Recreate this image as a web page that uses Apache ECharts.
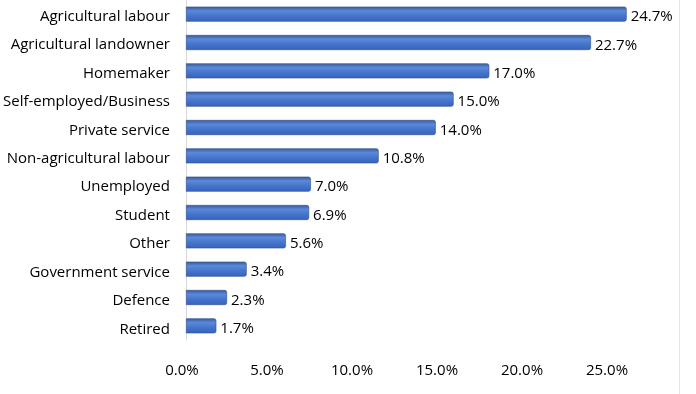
<!DOCTYPE html>
<html><head><meta charset="utf-8">
<script src="https://cdn.jsdelivr.net/npm/echarts@6/dist/echarts.min.js"></script>
<style>html,body{margin:0;padding:0;background:#fff}#c{width:696px;height:394px}</style>
</head><body><div id="c"></div>
<script>
var categories = ['Agricultural labour','Agricultural landowner','Homemaker','Self-employed/Business','Private service','Non-agricultural labour','Unemployed','Student','Other','Government service','Defence','Retired'];
var values = [24.7, 22.7, 17.0, 15.0, 14.0, 10.8, 7.0, 6.9, 5.6, 3.4, 2.3, 1.7];
var tickValues = [0, 5, 10, 15, 20, 25];

var chart = echarts.init(document.getElementById('c'));
var font = 'Open Sans, Liberation Sans, sans-serif';
chart.setOption({
  animation: false,
  grid: [
    {left: 186, right: 64, top: -1, height: 341},
    {left: 182, right: 89, top: 340, height: 1},
    {left: 186, right: 64, top: 2.5, height: 341}
  ],
  xAxis: [
    {type: 'value', gridIndex: 0, min: 0, max: 25, interval: 5, show: false},
    {type: 'value', gridIndex: 1, min: tickValues[0], max: tickValues[tickValues.length-1], interval: 5,
     axisLine: {show: false}, axisTick: {show: false}, splitLine: {show: false},
     axisLabel: {margin: 22, color: '#000', fontSize: 15, fontFamily: font,
       formatter: function(v){ return v.toFixed(1) + '%'; }}},
    {type: 'value', gridIndex: 2, min: 0, max: 25, interval: 5, show: false}
  ],
  yAxis: [
    {type: 'category', gridIndex: 0, data: categories, inverse: true,
     axisLine: {show: true, lineStyle: {color: '#d9d9d9', width: 1}},
     axisTick: {show: false}, axisLabel: {show: false}},
    {type: 'category', gridIndex: 1, data: [''], show: false},
    {type: 'category', gridIndex: 2, data: categories, inverse: true,
     axisLine: {show: false}, axisTick: {show: false},
     axisLabel: {margin: 17, color: '#000', fontSize: 15, fontFamily: font}}
  ],
  series: [{
    type: 'bar', xAxisIndex: 0, yAxisIndex: 0, data: values, barWidth: 15,
    itemStyle: {
      color: {type: 'linear', x: 0, y: 0, x2: 0, y2: 1, colorStops: [
        {offset: 0, color: '#3e5c98'},
        {offset: 0.14, color: '#4a6fb6'},
        {offset: 0.28, color: '#5b89da'},
        {offset: 0.6, color: '#4675cc'},
        {offset: 1, color: '#3563bd'}
      ]},
      borderColor: '#2f4f8f', borderWidth: 0.6,
      borderRadius: [0, 2, 2, 0]
    },
    label: {show: true, position: 'right', distance: 4, offset: [0, 3], color: '#000', fontSize: 15, fontFamily: font,
      formatter: function(p){ return p.value.toFixed(1) + '%'; }}
  }],
  graphic: [{type: 'rect', shape: {x: 679, y: 0, width: 1, height: 394}, style: {fill: '#e4e6ec'}, silent: true}]
});
</script>
</body></html>
